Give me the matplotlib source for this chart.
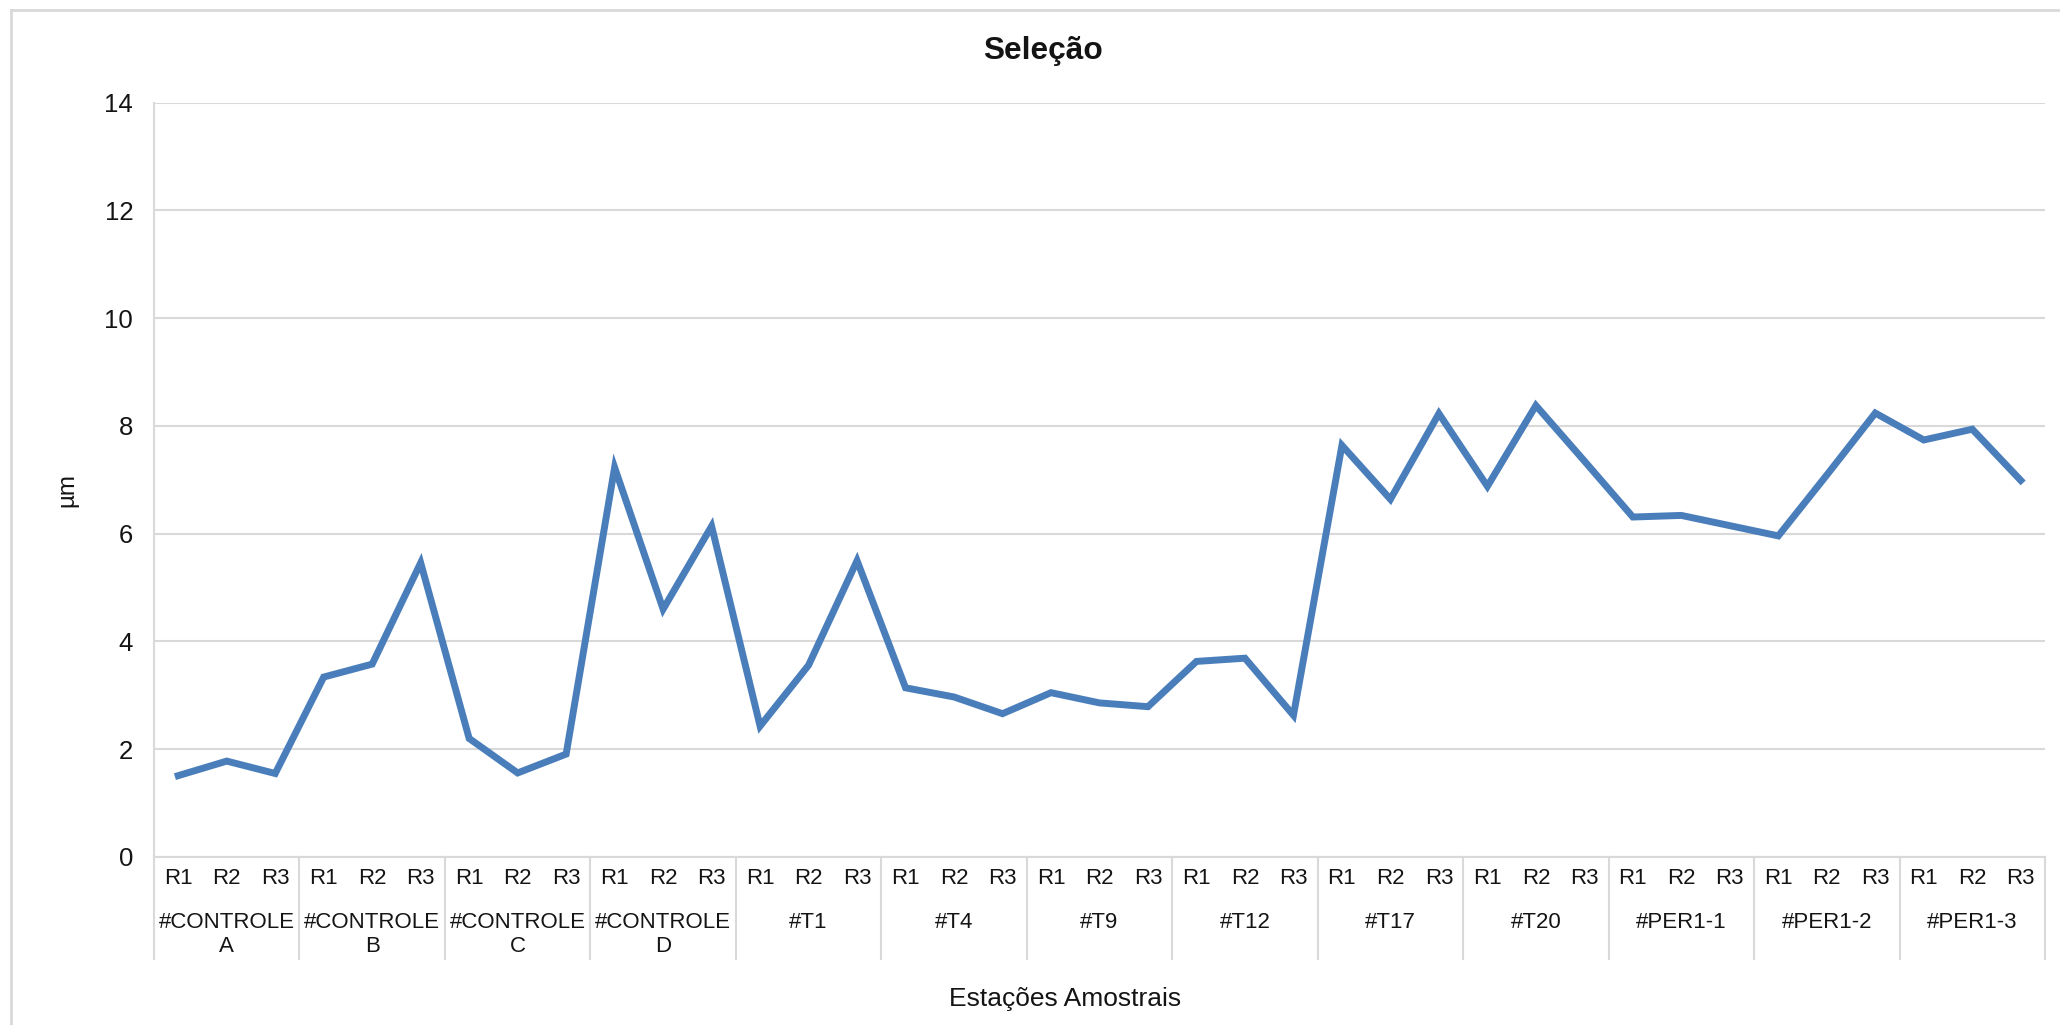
import matplotlib
matplotlib.use("Agg")
import matplotlib.pyplot as plt
from matplotlib.lines import Line2D

plt.rcParams['font.family'] = ['Liberation Sans', 'DejaVu Sans']

# Sampling stations, each with three replicates
stations = [("#CONTROLE", "A"), ("#CONTROLE", "B"), ("#CONTROLE", "C"),
            ("#CONTROLE", "D"), ("#T1", ""), ("#T4", ""), ("#T9", ""),
            ("#T12", ""), ("#T17", ""), ("#T20", ""), ("#PER1-1", ""),
            ("#PER1-2", ""), ("#PER1-3", "")]
replicates = ["R1", "R2", "R3"]

# Sorting (seleção) values in µm, R1-R3 for each station in order
values = [1.51, 1.78, 1.55,
          3.34, 3.58, 5.46,
          2.20, 1.56, 1.91,
          7.23, 4.60, 6.14,
          2.43, 3.56, 5.50,
          3.14, 2.97, 2.66,
          3.05, 2.86, 2.79,
          3.63, 3.69, 2.63,
          7.64, 6.64, 8.23,
          6.88, 8.38, 7.35,
          6.31, 6.34, 6.15,
          5.96, 7.09, 8.24,
          7.74, 7.94, 6.99]

yticks = [0, 2, 4, 6, 8, 10, 12, 14]

W, H = 2060, 1025
fig = plt.figure(figsize=(W / 100, H / 100), dpi=100)
fig.patch.set_facecolor("white")

ax_l, ax_r, ax_t, ax_b = 154, 2045, 102.7, 857
ax = fig.add_axes([ax_l / W, 1 - ax_b / H, (ax_r - ax_l) / W, (ax_b - ax_t) / H])

grid_c = "#d9d9d9"
text_c = "#141414"
n = len(values)
x = list(range(n))
ax.plot(x, values, color="#4a7ebb", lw=5.0, solid_joinstyle="miter", zorder=3)

ax.set_xlim(-0.5, n - 0.5)
ax.set_ylim(0, 14)
ax.set_yticks(yticks)
ax.set_yticklabels([str(t) for t in yticks], fontsize=18.5, color=text_c)
ax.yaxis.grid(True, color=grid_c, lw=1.5)
ax.set_axisbelow(True)
ax.tick_params(axis="y", length=0, pad=15)

ax.set_xticks(x)
ax.set_xticklabels([replicates[i % 3] for i in x], fontsize=16, color=text_c)
ax.tick_params(axis="x", length=0, pad=8)

for side in ("top", "right"):
    ax.spines[side].set_visible(False)
for side in ("left", "bottom"):
    ax.spines[side].set_color(grid_c)
    ax.spines[side].set_linewidth(1.5)

# Group separators and station labels under the axis
px = ax_b - ax_t
sep_bottom = (ax_b - 959) / px
trans = ax.get_xaxis_transform()
for k in range(len(stations) + 1):
    xs = 3 * k - 0.5
    ax.add_line(Line2D([xs, xs], [0, sep_bottom], transform=trans,
                       color=grid_c, lw=1.5, clip_on=False))
for k, (name, sub) in enumerate(stations):
    xc = 3 * k + 1
    ax.text(xc, (ax_b - 922) / px, name, transform=trans, ha="center",
            va="center", fontsize=16, color=text_c)
    if sub:
        ax.text(xc, (ax_b - 947) / px, sub, transform=trans, ha="center",
                va="center", fontsize=16, color=text_c)

# Titles
fig.text(1043 / W, 1 - 59 / H, "Seleção", ha="center", va="baseline",
         fontsize=22.8, fontweight="bold", color=text_c)
fig.text(1064.7 / W, 1 - 1005.7 / H, "Estações Amostrais", ha="center",
         va="baseline", fontsize=19, color=text_c)
fig.text(67 / W, 1 - 490 / H, "µm", ha="center", va="center", rotation=90,
         fontsize=17.5, color=text_c)

# Chart frame
fig.add_artist(Line2D([11 / W, 11 / W], [1 - 10 / H, 0], transform=fig.transFigure,
                      color=grid_c, lw=2))
fig.add_artist(Line2D([11 / W, 1], [1 - 10 / H, 1 - 10 / H], transform=fig.transFigure,
                      color=grid_c, lw=2))

fig.savefig("out.png", dpi=100, facecolor="white")
